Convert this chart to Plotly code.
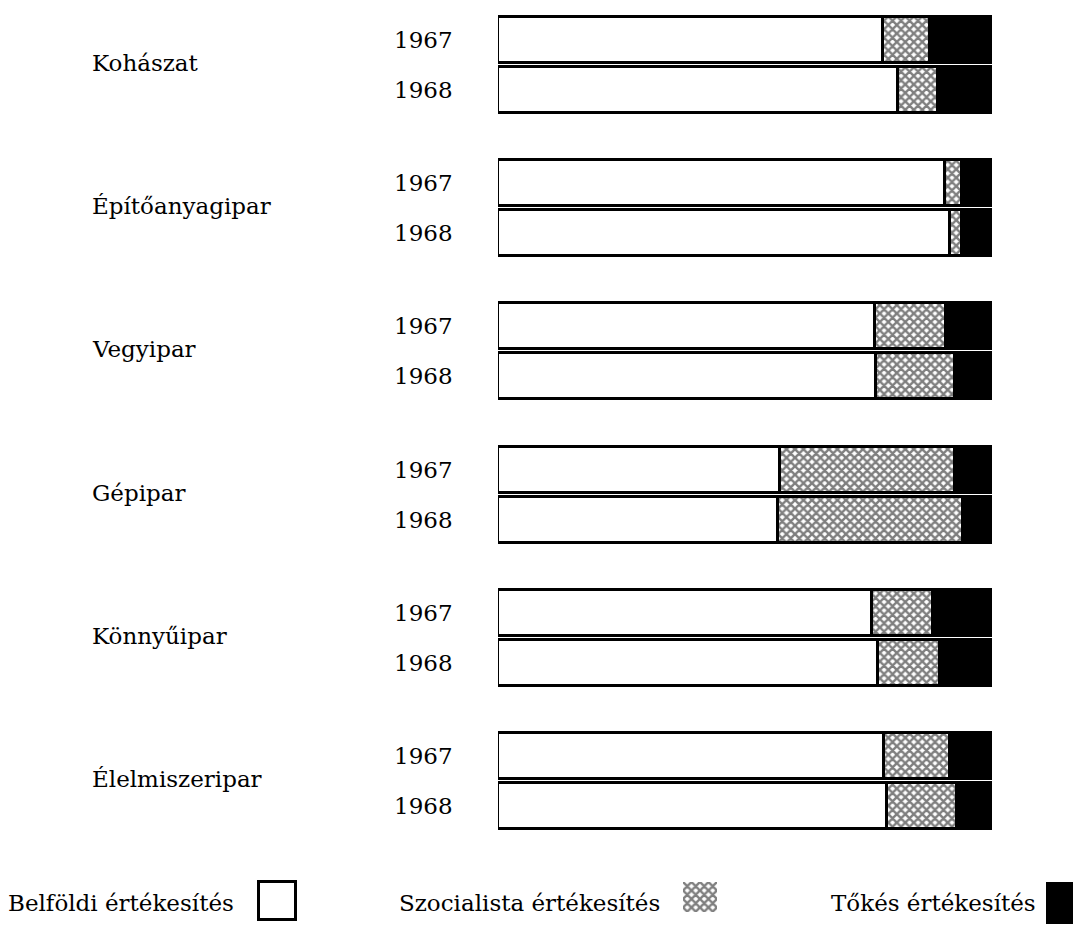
import plotly.graph_objects as go

# ---- data (percent of sales) ----
industries = ["Kohászat", "Építőanyagipar", "Vegyipar", "Gépipar", "Könnyűipar", "Élelmiszeripar"]
years = ["1967", "1968"]
belfoldi = [78.0, 81.0, 90.5, 91.5, 76.3, 76.5, 57.1, 56.7, 75.7, 76.9, 78.1, 78.7]
szocialista = [9.5, 8.1, 3.4, 2.4, 14.4, 16.0, 35.4, 37.4, 12.3, 12.6, 13.4, 14.2]
tokes = [12.5, 10.9, 6.1, 6.1, 9.3, 7.5, 7.5, 5.9, 12.0, 10.5, 8.5, 7.1]
legend_labels = ["Belföldi értékesítés", "Szocialista értékesítés", "Tőkés értékesítés"]

# ---- layout constants (page pixel units; page body has an 8px margin) ----
PAGE_W, PAGE_H = 1081, 925
OFF = 8
W, H = PAGE_W - OFF, PAGE_H - OFF
TOP = 40.0          # centre of first bar
PITCH = 143.2       # distance between industry groups
YEAR_OFF = 50.0     # offset of second year bar within a group
BAR_H = 46
BAR_L, BAR_R = 498, 992
FONT = dict(family="DejaVu Serif", size=23, color="black")

ypos = []
ylab = []
for g in range(len(industries)):
    for k, yr in enumerate(years):
        ypos.append(TOP + g * PITCH + k * YEAR_OFF)
        ylab.append(yr)

line = dict(color="black", width=3)
pattern = dict(shape="x", fgcolor="black", bgcolor="white", size=6, solidity=0.65)

fig = go.Figure()
fig.add_trace(go.Bar(y=ypos, x=belfoldi, orientation="h", width=BAR_H,
                     marker=dict(color="white", line=line), name=legend_labels[0],
                     xaxis="x2", yaxis="y"))
fig.add_trace(go.Bar(y=ypos, x=szocialista, orientation="h", width=BAR_H,
                     marker=dict(color="white", line=line, pattern=pattern), name=legend_labels[1],
                     xaxis="x2", yaxis="y"))
fig.add_trace(go.Bar(y=ypos, x=tokes, orientation="h", width=BAR_H,
                     marker=dict(color="black", line=line), name=legend_labels[2],
                     xaxis="x2", yaxis="y"))

# legend glyphs: plain boxes on the pixel-unit axis
leg_boxes = [  # (left, width, centre y, height)
    (259, 37, 901, 38),
    (1046, 34, 903, 42),
]
leg_styles = [
    dict(color="white", line=dict(color="black", width=3)),
    dict(color="black", line=dict(color="black", width=0)),
]
for (lx, lw, ly, lh), st in zip(leg_boxes, leg_styles):
    fig.add_trace(go.Bar(y=[ly], x=[lw], base=[lx], orientation="h", width=lh,
                         marker=st, xaxis="x", yaxis="y", showlegend=False))

# patterned legend glyph in its own tiny subplot
PAT_X0, PAT_X1, PAT_Y0, PAT_Y1 = 683, 717, 882, 912
fig.add_trace(go.Bar(y=[0], x=[1], orientation="h", width=1,
                     marker=dict(color="white", line=dict(width=0), pattern=pattern),
                     xaxis="x3", yaxis="y2", showlegend=False))

annotations = []
for y, yr in zip(ypos, ylab):
    annotations.append(dict(x=455, y=y, xref="x", yref="y", text=yr, showarrow=False,
                            xanchor="right", yanchor="middle", font=FONT))
for g, name in enumerate(industries):
    annotations.append(dict(x=90, y=TOP + g * PITCH + YEAR_OFF / 2 - 2, xref="x", yref="y", text=name,
                            showarrow=False, xanchor="left", yanchor="middle", font=FONT))
leg_text_right = [236, 662, 1038]
for xr, txt in zip(leg_text_right, legend_labels):
    annotations.append(dict(x=xr, y=903, xref="x", yref="y", text=txt, showarrow=False,
                            xanchor="right", yanchor="middle", font=FONT))

fig.update_layout(
    width=W, height=H, barmode="stack", showlegend=False,
    margin=dict(l=0, r=0, t=0, b=0),
    paper_bgcolor="white", plot_bgcolor="white",
    bargap=0,
    xaxis=dict(domain=[0, 1], range=[OFF, PAGE_W], visible=False, anchor="y"),
    xaxis2=dict(domain=[(BAR_L - OFF) / W, (BAR_R - OFF) / W], range=[0, 100],
                visible=False, anchor="y"),
    yaxis=dict(domain=[0, 1], range=[PAGE_H, OFF], visible=False),
    xaxis3=dict(domain=[(PAT_X0 - OFF) / W, (PAT_X1 - OFF) / W], range=[0, 1],
                visible=False, anchor="y2"),
    yaxis2=dict(domain=[(PAGE_H - PAT_Y1) / H, (PAGE_H - PAT_Y0) / H], range=[-0.5, 0.5],
                visible=False, anchor="x3"),
    annotations=annotations,
)

fig.write_html("out.html")
